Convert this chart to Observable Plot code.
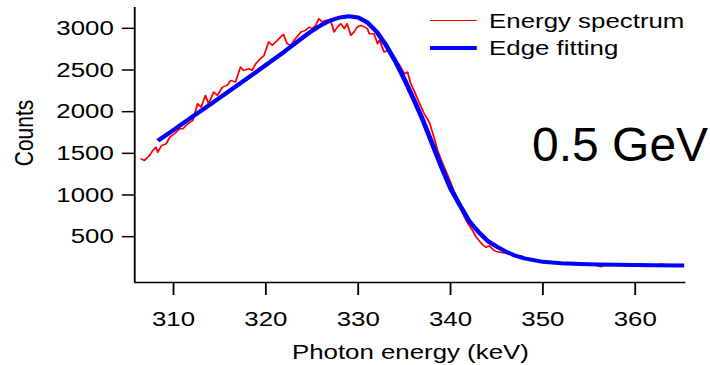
<!DOCTYPE html>
<html>
<head>
<meta charset="utf-8">
<script src="https://cdn.jsdelivr.net/npm/d3@7"></script>
<script src="https://cdn.jsdelivr.net/npm/@observablehq/plot@0.6"></script>
<style>
  html, body { margin: 0; padding: 0; background: #fff; }
  #wrap { position: relative; width: 710px; height: 365px; overflow: hidden; background: #fff;
          font-family: "Liberation Sans", Arial, sans-serif; color: #000; }
  #legend { position: absolute; left: 430px; top: 7px; transform: scaleX(1.2305); transform-origin: 0 0; }
  .row { display: flex; align-items: center; height: 27px; font-size: 21px; white-space: nowrap; }
  .swatch { width: 38px; margin-right: 10px; }
  #note { position: absolute; left: 532px; top: 121px; font-size: 48px; line-height: 1; white-space: nowrap; }
</style>
</head>
<body>
<div id="wrap">
  <div id="chart"></div>
  <div id="legend"></div>
  <div id="note"></div>
</div>
<script>
// ---- data ----
const specEnergy = [306.5,306.85,307.4,307.75,308.1,308.3,308.7,309.2,309.6,310.1,310.65,311.0,311.55,312.1,312.6,313.0,313.45,313.8,314.35,314.75,315.3,315.8,316.2,316.7,317.25,317.6,318.15,318.5,318.9,319.4,319.8,320.3,320.7,321.25,321.9,322.3,322.7,323.05,323.8,324.3,324.7,325.0,325.4,325.75,326.1,326.5,327.0,327.4,327.75,328.1,328.5,328.8,329.2,329.55,329.9,330.3,331.0,331.2,331.7,332.1,332.3,332.8,333.2,333.7,334.1,334.4,335.0,335.35,335.7,336.1,336.6,337.15,337.7,338.2,338.6,339.1,339.6,340.0,340.4,340.8,341.2,341.7,342.05,342.4,342.75,343.1,343.5,343.85,344.2,344.75,345.1,345.5,346.0,346.55,347.0,347.3,347.6,348.1,348.7,349.2,349.8,350.5,351.2,351.8,352.5,353.4,354.2,355.0,355.7,356.3,357.0,357.8,358.5,359.3,360.1,360.9,361.7,362.4,362.8,363.5,364.2,365.0];
const specCounts = [1434,1413,1473,1534,1573,1513,1594,1614,1694,1735,1795,1795,1855,1895,2095,2054,2195,2095,2235,2195,2295,2315,2375,2355,2535,2495,2515,2495,2575,2636,2675,2835,2796,2856,2928,2816,2796,2856,2956,2976,3016,2996,3036,3117,3076,3097,3097,2956,3016,3056,2996,3056,2916,2956,3016,3036,2996,2936,2936,2816,2856,2716,2736,2675,2595,2575,2455,2475,2335,2240,2110,1975,1874,1694,1534,1390,1260,1153,1040,933,810,692,630,572,500,452,400,371,392,332,318,311,300,292,275,260,272,245,232,215,205,200,190,186,178,172,170,163,158,140,165,162,158,160,155,158,162,157,172,158,155,152];

const fitEnergy = [308.3,310,312,314,316,318,320,322,324,325,326,327,328,329,330,331,332,333,334,335,336,337,338,339,340,341,342,343,344,345,346,347,348,349,350,352,354,356,358,360,362,365.3];
const fitCounts = [1650,1780,1935,2090,2245,2400,2560,2720,2890,2970,3040,3095,3130,3145,3130,3070,2960,2800,2610,2390,2150,1900,1620,1340,1080,880,690,560,450,380,320,272,240,218,198,182,173,167,163,160,157,153];

const xTicks = [310, 320, 330, 340, 350, 360];
const yTicks = [500, 1000, 1500, 2000, 2500, 3000];
const xDomain = [305.8, 365.5];
const yDomain = [-50, 3250];
const xLabel = "Photon energy (keV)";
const yLabel = "Counts";
const seriesNames = ["Energy spectrum", "Edge fitting"];
const seriesColors = ["#ff0000", "#0000ff"];
const seriesWidths = [1.5, 4];
const noteText = "0.5 GeV";

// ---- build ----
const spectrum = specEnergy.map((e, i) => ({energy: e, counts: specCounts[i]}));
const fit = fitEnergy.map((e, i) => ({energy: e, counts: fitCounts[i]}));

const W = 577, H = 365, OUT_W = 710;
const fs = 21;

const chart = Plot.plot({
  width: W,
  height: H,
  marginLeft: 109,
  marginRight: 20,
  marginTop: 7,
  marginBottom: 83,
  style: {fontFamily: '"Liberation Sans", Arial, sans-serif', fontSize: fs + "px", color: "#000", background: "transparent", overflow: "visible"},
  x: {domain: xDomain},
  y: {domain: yDomain},
  marks: [
    Plot.line(spectrum, {x: "energy", y: "counts", stroke: seriesColors[0], strokeWidth: seriesWidths[0]}),
    Plot.line(fit, {x: "energy", y: "counts", stroke: seriesColors[1], strokeWidth: seriesWidths[1], strokeLinecap: "butt"}),
    Plot.ruleX([xDomain[0]], {stroke: "#000", strokeWidth: 1.5}),
    Plot.ruleY([yDomain[0]], {stroke: "#000", strokeWidth: 1.5}),
    Plot.axisX({ticks: xTicks, tickSize: 13, tickPadding: 16, label: null, fontSize: fs, strokeWidth: 1.5, tickFormat: d => String(d)}),
    Plot.axisY({ticks: yTicks, tickSize: 10, tickPadding: 7, label: null, fontSize: fs, strokeWidth: 1.5, tickFormat: d => String(d)}),
    Plot.text([xLabel], {text: d => d, frameAnchor: "bottom", lineAnchor: "middle", textAnchor: "middle", dy: 70, fontSize: fs}),
    Plot.text([yLabel], {text: d => d, frameAnchor: "left", lineAnchor: "middle", textAnchor: "middle", rotate: -90, dx: -89.5, dy: -12, fontSize: fs})
  ]
});

// stretch horizontally like the reference image
chart.setAttribute("width", OUT_W);
chart.setAttribute("height", H);
chart.setAttribute("preserveAspectRatio", "none");
chart.style.width = OUT_W + "px";
chart.style.height = H + "px";
chart.style.maxWidth = "none";
document.getElementById("chart").appendChild(chart);

// legend
const legend = document.getElementById("legend");
seriesNames.forEach((name, i) => {
  const row = document.createElement("div");
  row.className = "row";
  const sw = document.createElement("span");
  sw.className = "swatch";
  sw.style.height = seriesWidths[i] + "px";
  sw.style.background = seriesColors[i];
  const label = document.createElement("span");
  label.textContent = name;
  row.appendChild(sw);
  row.appendChild(label);
  legend.appendChild(row);
});

document.getElementById("note").textContent = noteText;
</script>
</body>
</html>
